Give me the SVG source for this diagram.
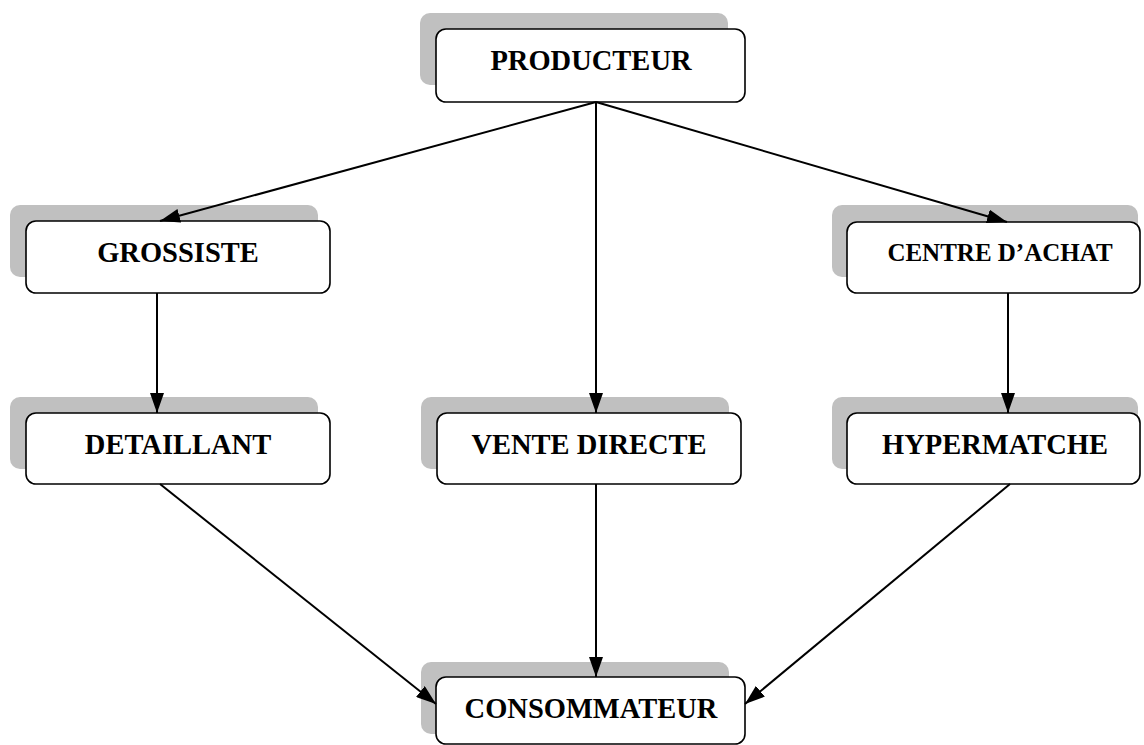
<svg xmlns="http://www.w3.org/2000/svg" width="1144" height="745" viewBox="0 0 1144 745">
<style>
.sh{fill:#c0c0c0;}
.bx{fill:#fff;stroke:#000;stroke-width:1.6;}
.t{font-family:"Liberation Serif","Times New Roman",serif;font-weight:bold;font-size:28.5px;text-anchor:middle;fill:#000;}
.c{stroke:#000;stroke-width:2;fill:none;marker-end:url(#ah);}
</style>
<defs>
<marker id="ah" viewBox="0 0 20 14" refX="20" refY="7" markerWidth="20" markerHeight="14" markerUnits="userSpaceOnUse" orient="auto">
<path d="M0,0 L20,7 L0,14 z" fill="#000"/>
</marker>
</defs>
<rect width="1144" height="745" fill="#fff"/>
<g id="producteur">
<rect class="sh" x="420" y="13" width="308" height="72" rx="10"/>
<rect class="bx" x="436" y="29" width="309" height="73" rx="10"/>
<text class="t" x="591" y="70">PRODUCTEUR</text>
</g>
<g id="grossiste">
<rect class="sh" x="10" y="205" width="308" height="72" rx="10"/>
<rect class="bx" x="26" y="221" width="304" height="72" rx="10"/>
<text class="t" x="178" y="262">GROSSISTE</text>
</g>
<g id="centre-achat">
<rect class="sh" x="832" y="205" width="306" height="72" rx="10"/>
<rect class="bx" x="847" y="222" width="293" height="71" rx="10"/>
<text class="t" x="1000" y="261" style="font-size:25px">CENTRE D’ACHAT</text>
</g>
<g id="detaillant">
<rect class="sh" x="10" y="397" width="308" height="72" rx="10"/>
<rect class="bx" x="26" y="413" width="304" height="71" rx="10"/>
<text class="t" x="178" y="454">DETAILLANT</text>
</g>
<g id="vente-directe">
<rect class="sh" x="421" y="397" width="308" height="72" rx="10"/>
<rect class="bx" x="437" y="413" width="304" height="71" rx="10"/>
<text class="t" x="589" y="454">VENTE DIRECTE</text>
</g>
<g id="hypermatche">
<rect class="sh" x="832" y="397" width="306" height="72" rx="10"/>
<rect class="bx" x="847" y="413" width="293" height="71" rx="10"/>
<text class="t" x="995" y="454">HYPERMATCHE</text>
</g>
<g id="consommateur">
<rect class="sh" x="421" y="662" width="308" height="72" rx="10"/>
<rect class="bx" x="436" y="677" width="309" height="67" rx="10"/>
<text class="t" x="591" y="718">CONSOMMATEUR</text>
</g>
<g id="connectors">
<line class="c" x1="596" y1="102" x2="160" y2="221"/>
<line class="c" x1="596" y1="102" x2="596" y2="413"/>
<line class="c" x1="596" y1="102" x2="1007" y2="222"/>
<line class="c" x1="157" y1="293" x2="157" y2="413"/>
<line class="c" x1="1008" y1="293" x2="1008" y2="413"/>
<line class="c" x1="160" y1="484" x2="436" y2="704"/>
<line class="c" x1="596" y1="484" x2="596" y2="677"/>
<line class="c" x1="1010" y1="484" x2="745" y2="704"/>
</g>
</svg>
